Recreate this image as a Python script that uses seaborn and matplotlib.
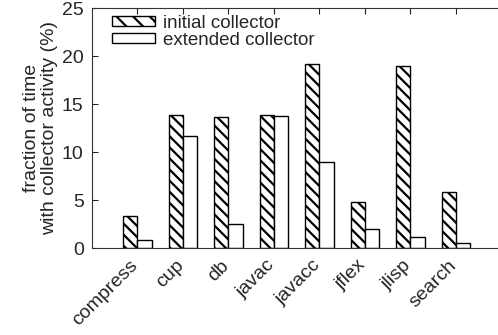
import numpy as np
import pandas as pd
import matplotlib
matplotlib.use('Agg')
import matplotlib.pyplot as plt
import matplotlib.transforms as mtransforms
import seaborn as sns
from matplotlib.patches import Patch

# data
benchmarks = ['compress', 'cup', 'db', 'javac', 'javacc', 'jflex', 'jlisp', 'search']
initial = [3.35, 13.85, 13.65, 13.85, 19.2, 4.8, 19.0, 5.8]
extended = [0.85, 11.7, 2.5, 13.7, 8.95, 1.95, 1.1, 0.55]
series = ['initial collector', 'extended collector']

df = pd.DataFrame({
    'benchmark': benchmarks * 2,
    'value': initial + extended,
    'collector': [series[0]] * len(benchmarks) + [series[1]] * len(benchmarks),
})

sns.set_style('ticks')
plt.rcParams['font.family'] = ['Liberation Sans', 'DejaVu Sans']
plt.rcParams['hatch.linewidth'] = 1.6

fig = plt.figure(figsize=(4.98, 3.35), dpi=100)
# right edge of the axes runs past the figure, as in the reference
ax = fig.add_axes([0.1847, 0.2597, 0.8314, 0.7164])

sns.barplot(data=df, x='benchmark', y='value', hue='collector',
            palette=['white', 'white'], edgecolor='black', linewidth=1.0,
            width=0.62, ax=ax, legend=False)

for bar in ax.containers[0]:
    bar.set_hatch('\\\\\\')

ax.set_xlim(-1, 8.1)
ax.set_ylim(0, 25)
ax.set_yticks([0, 5, 10, 15, 20, 25])
ax.set_xlabel('')
ax.set_ylabel('fraction of time\nwith collector activity (%)', fontsize=14,
              labelpad=3, linespacing=1.05)
ax.tick_params(axis='both', direction='in', labelsize=14, length=4, top=True)
ax.tick_params(axis='y', pad=6)
ax.spines['right'].set_visible(False)
offset = mtransforms.ScaledTranslation(-0.08, -0.04, fig.dpi_scale_trans)
for lab in ax.get_xticklabels():
    lab.set_rotation(45)
    lab.set_ha('right')
    lab.set_rotation_mode('anchor')
    lab.set_transform(lab.get_transform() + offset)
for s in ax.spines.values():
    s.set_color('#333333')

handles = [Patch(facecolor='white', edgecolor='black', hatch='\\\\', label=series[0]),
           Patch(facecolor='white', edgecolor='black', label=series[1])]
ax.legend(handles=handles, loc='upper left', frameon=False, fontsize=13.5,
          handlelength=2.3, handleheight=0.45, labelspacing=0.0,
          borderaxespad=0.1, bbox_to_anchor=(0.025, 1.01), handletextpad=0.45)

fig.savefig('out.png', dpi=100)
